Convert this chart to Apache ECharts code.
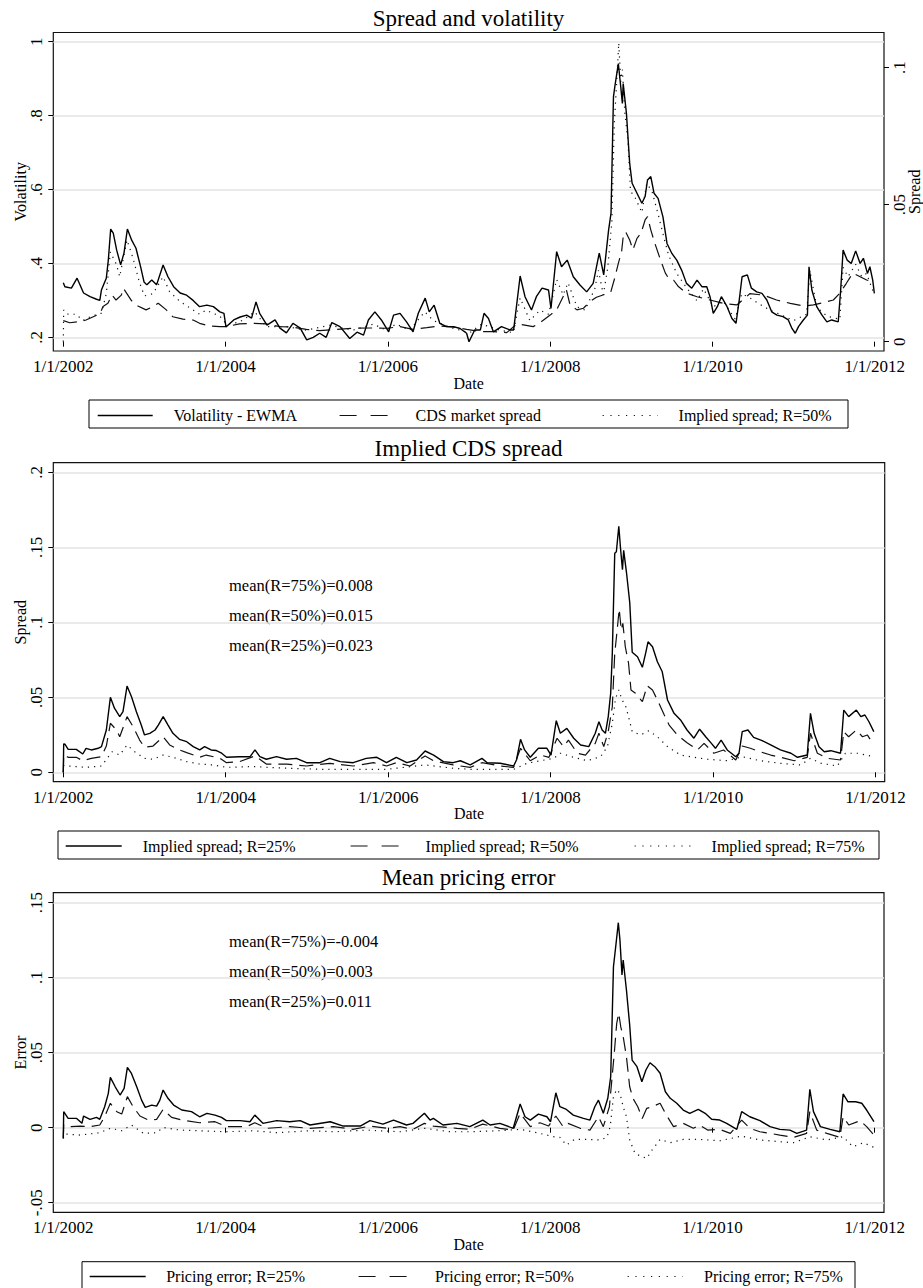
<!DOCTYPE html>
<html>
<head>
<meta charset="utf-8">
<script src="https://cdn.jsdelivr.net/npm/echarts@6/dist/echarts.min.js"></script>
<style>
html,body{margin:0;padding:0;background:#fff;}
#chart{width:923px;height:1288px;}
</style>
</head>
<body>
<div id="chart"></div>
<script>
// ---------------- DATA (date in decimal years, value) ----------------
const xTicks = [2002, 2004, 2006, 2008, 2010, 2012];
const volTicks = [0.2, 0.4, 0.6, 0.8, 1];
const spreadTicksTop = [0, 0.05, 0.1];
const spreadTicks = [0, 0.05, 0.1, 0.15, 0.2];
const errorTicks = [-0.05, 0, 0.05, 0.1, 0.15];

const titles = ['Spread and volatility', 'Implied CDS spread', 'Mean pricing error'];
const namesTop = ['Volatility - EWMA', 'CDS market spread', 'Implied spread; R=50%'];
const namesMid = ['Implied spread; R=25%', 'Implied spread; R=50%', 'Implied spread; R=75%'];
const namesBot = ['Pricing error; R=25%', 'Pricing error; R=50%', 'Pricing error; R=75%'];
const notesMid = ['mean(R=75%)=0.008', 'mean(R=50%)=0.015', 'mean(R=25%)=0.023'];
const notesBot = ['mean(R=75%)=-0.004', 'mean(R=50%)=0.003', 'mean(R=25%)=0.011'];

const ewma = [[2002.0,0.348],[2002.02,0.337],[2002.1,0.333],[2002.17,0.36],[2002.25,0.32],[2002.33,0.31],[2002.41,0.303],[2002.45,0.30],[2002.47,0.328],[2002.53,0.36],[2002.555,0.409],[2002.584,0.493],[2002.616,0.482],[2002.658,0.436],[2002.707,0.396],[2002.748,0.428],[2002.79,0.493],[2002.843,0.463],[2002.896,0.441],[2002.954,0.39],[2002.995,0.35],[2003.03,0.342],[2003.09,0.355],[2003.15,0.342],[2003.23,0.396],[2003.29,0.364],[2003.36,0.337],[2003.44,0.32],[2003.52,0.314],[2003.60,0.30],[2003.68,0.283],[2003.77,0.287],[2003.85,0.283],[2003.93,0.269],[2003.98,0.265],[2004.005,0.228],[2004.10,0.247],[2004.18,0.255],[2004.26,0.26],[2004.32,0.252],[2004.375,0.296],[2004.42,0.265],[2004.51,0.233],[2004.61,0.247],[2004.67,0.225],[2004.75,0.212],[2004.83,0.238],[2004.92,0.225],[2005.0,0.193],[2005.08,0.20],[2005.16,0.211],[2005.24,0.20],[2005.31,0.24],[2005.41,0.229],[2005.53,0.197],[2005.62,0.214],[2005.70,0.206],[2005.76,0.247],[2005.84,0.269],[2005.92,0.247],[2006.01,0.215],[2006.07,0.26],[2006.15,0.265],[2006.23,0.242],[2006.31,0.215],[2006.375,0.265],[2006.46,0.306],[2006.51,0.269],[2006.57,0.287],[2006.64,0.238],[2006.725,0.229],[2006.81,0.229],[2006.89,0.224],[2006.97,0.211],[2007.0,0.188],[2007.07,0.22],[2007.14,0.22],[2007.185,0.265],[2007.24,0.251],[2007.30,0.215],[2007.40,0.229],[2007.505,0.22],[2007.55,0.22],[2007.63,0.366],[2007.69,0.31],[2007.77,0.274],[2007.83,0.31],[2007.90,0.333],[2007.98,0.328],[2008.01,0.278],[2008.08,0.432],[2008.14,0.391],[2008.21,0.409],[2008.285,0.364],[2008.37,0.341],[2008.45,0.323],[2008.53,0.346],[2008.605,0.428],[2008.66,0.369],[2008.72,0.49],[2008.75,0.536],[2008.78,0.851],[2008.80,0.883],[2008.84,0.941],[2008.87,0.878],[2008.89,0.833],[2008.90,0.887],[2008.94,0.806],[2008.98,0.671],[2009.01,0.617],[2009.07,0.59],[2009.13,0.563],[2009.17,0.581],[2009.20,0.626],[2009.24,0.635],[2009.28,0.59],[2009.33,0.576],[2009.39,0.526],[2009.44,0.454],[2009.50,0.427],[2009.56,0.409],[2009.62,0.382],[2009.68,0.346],[2009.745,0.333],[2009.81,0.355],[2009.87,0.337],[2009.93,0.337],[2009.97,0.31],[2010.01,0.265],[2010.06,0.283],[2010.11,0.31],[2010.18,0.283],[2010.24,0.251],[2010.29,0.238],[2010.33,0.301],[2010.365,0.364],[2010.43,0.369],[2010.48,0.333],[2010.545,0.323],[2010.61,0.319],[2010.67,0.301],[2010.73,0.269],[2010.795,0.26],[2010.87,0.256],[2010.935,0.247],[2010.98,0.224],[2011.02,0.211],[2011.06,0.229],[2011.12,0.247],[2011.17,0.26],[2011.19,0.391],[2011.225,0.328],[2011.285,0.283],[2011.35,0.26],[2011.41,0.242],[2011.47,0.247],[2011.55,0.242],[2011.58,0.328],[2011.61,0.436],[2011.66,0.409],[2011.71,0.40],[2011.765,0.434],[2011.82,0.40],[2011.86,0.414],[2011.91,0.373],[2011.94,0.391],[2011.975,0.355],[2011.995,0.319]];

const cdsMarket = [[2002.0,0.0077],[2002.08,0.0069],[2002.20,0.0073],[2002.28,0.0079],[2002.37,0.0091],[2002.45,0.0101],[2002.49,0.0128],[2002.55,0.014],[2002.60,0.017],[2002.65,0.0152],[2002.715,0.017],[2002.74,0.0195],[2002.84,0.015],[2002.92,0.013],[2003.02,0.0116],[2003.105,0.0128],[2003.17,0.014],[2003.27,0.0116],[2003.35,0.0091],[2003.475,0.0082],[2003.60,0.0079],[2003.68,0.0067],[2003.80,0.0057],[2003.93,0.0055],[2004.01,0.0055],[2004.17,0.0065],[2004.34,0.0067],[2004.50,0.0065],[2004.67,0.0055],[2004.83,0.0053],[2004.995,0.0045],[2005.16,0.004],[2005.57,0.0049],[2005.78,0.005],[2005.99,0.0049],[2006.15,0.0055],[2006.31,0.0045],[2006.48,0.0051],[2006.64,0.0057],[2006.81,0.0053],[2006.97,0.0045],[2007.14,0.0037],[2007.30,0.0037],[2007.465,0.0033],[2007.59,0.0065],[2007.67,0.0061],[2007.79,0.0055],[2007.875,0.0069],[2008.0,0.0097],[2008.08,0.0116],[2008.20,0.0189],[2008.245,0.0134],[2008.33,0.0116],[2008.41,0.0122],[2008.49,0.0146],[2008.57,0.0162],[2008.72,0.0177],[2008.746,0.018],[2008.80,0.0237],[2008.84,0.0286],[2008.88,0.0328],[2008.90,0.0383],[2008.93,0.0401],[2008.98,0.0371],[2009.02,0.0335],[2009.07,0.0377],[2009.12,0.0396],[2009.17,0.0444],[2009.20,0.0456],[2009.24,0.0408],[2009.29,0.0359],[2009.36,0.0298],[2009.42,0.025],[2009.46,0.0231],[2009.52,0.0225],[2009.58,0.0201],[2009.68,0.0177],[2009.81,0.0164],[2009.97,0.0152],[2010.13,0.014],[2010.30,0.0134],[2010.46,0.0175],[2010.63,0.017],[2010.79,0.0152],[2010.96,0.014],[2011.12,0.013],[2011.245,0.0134],[2011.37,0.0143],[2011.49,0.0152],[2011.57,0.0177],[2011.65,0.0213],[2011.73,0.025],[2011.82,0.0237],[2011.90,0.0225],[2011.98,0.0219]];

const impliedR25 = [[2002.0,0],[2002.005,0.019],[2002.02,0.0187],[2002.06,0.0153],[2002.16,0.0153],[2002.24,0.0122],[2002.28,0.016],[2002.345,0.0149],[2002.43,0.016],[2002.47,0.0171],[2002.53,0.0282],[2002.58,0.050],[2002.63,0.0427],[2002.695,0.0371],[2002.735,0.0404],[2002.785,0.0575],[2002.84,0.0504],[2002.90,0.0404],[2002.96,0.0315],[2003.0,0.0249],[2003.065,0.026],[2003.13,0.0282],[2003.17,0.0315],[2003.23,0.0371],[2003.29,0.0315],[2003.35,0.026],[2003.43,0.022],[2003.52,0.0204],[2003.60,0.0171],[2003.68,0.0149],[2003.74,0.0171],[2003.82,0.0149],[2003.885,0.0145],[2003.95,0.0127],[2004.01,0.010],[2004.17,0.0104],[2004.30,0.0104],[2004.36,0.0149],[2004.42,0.0104],[2004.50,0.0087],[2004.625,0.0104],[2004.75,0.0087],[2004.87,0.0093],[2004.995,0.0064],[2005.16,0.0064],[2005.28,0.0093],[2005.41,0.0071],[2005.57,0.0064],[2005.73,0.0093],[2005.86,0.010],[2005.98,0.0064],[2006.10,0.010],[2006.23,0.0064],[2006.35,0.0082],[2006.455,0.0142],[2006.56,0.0115],[2006.68,0.0071],[2006.80,0.0064],[2006.89,0.0077],[2007.01,0.0049],[2007.155,0.0093],[2007.22,0.0064],[2007.38,0.006],[2007.545,0.0042],[2007.58,0.0082],[2007.63,0.022],[2007.68,0.0149],[2007.75,0.010],[2007.85,0.016],[2007.955,0.016],[2008.005,0.0115],[2008.07,0.0344],[2008.12,0.026],[2008.20,0.0293],[2008.285,0.0227],[2008.37,0.0182],[2008.47,0.0171],[2008.55,0.026],[2008.595,0.0337],[2008.635,0.0282],[2008.675,0.026],[2008.71,0.0371],[2008.74,0.0527],[2008.76,0.0793],[2008.79,0.146],[2008.81,0.147],[2008.84,0.164],[2008.86,0.150],[2008.885,0.135],[2008.90,0.148],[2008.935,0.133],[2008.975,0.113],[2009.005,0.080],[2009.07,0.077],[2009.13,0.070],[2009.17,0.0793],[2009.20,0.087],[2009.255,0.0837],[2009.315,0.0737],[2009.375,0.067],[2009.44,0.0482],[2009.52,0.0393],[2009.60,0.0349],[2009.68,0.0282],[2009.765,0.0227],[2009.835,0.0287],[2009.91,0.0237],[2009.98,0.0193],[2010.03,0.016],[2010.10,0.0215],[2010.175,0.0149],[2010.28,0.0104],[2010.32,0.0127],[2010.36,0.0271],[2010.43,0.0282],[2010.50,0.0233],[2010.605,0.0211],[2010.71,0.0182],[2010.83,0.0149],[2010.96,0.0127],[2011.04,0.010],[2011.16,0.0115],[2011.20,0.0393],[2011.245,0.026],[2011.305,0.0171],[2011.37,0.0137],[2011.45,0.0144],[2011.57,0.0127],[2011.61,0.0415],[2011.67,0.0371],[2011.765,0.0415],[2011.82,0.0371],[2011.87,0.0382],[2011.92,0.0337],[2011.98,0.0271]];

const impliedR50 = [[2002.0,0],[2002.005,0.0116],[2002.06,0.010],[2002.16,0.010],[2002.24,0.0077],[2002.345,0.0093],[2002.47,0.0104],[2002.53,0.0175],[2002.58,0.0327],[2002.655,0.0282],[2002.695,0.0237],[2002.785,0.0371],[2002.86,0.0304],[2002.94,0.0215],[2003.0,0.0167],[2003.105,0.0175],[2003.23,0.0237],[2003.31,0.0182],[2003.43,0.0149],[2003.52,0.0131],[2003.68,0.010],[2003.76,0.0115],[2003.93,0.0093],[2004.01,0.0064],[2004.17,0.0071],[2004.36,0.0109],[2004.50,0.0055],[2004.75,0.0055],[2004.995,0.0042],[2005.28,0.006],[2005.57,0.0042],[2005.82,0.0064],[2005.98,0.0042],[2006.10,0.0064],[2006.27,0.0042],[2006.455,0.0109],[2006.56,0.0077],[2006.80,0.0049],[2007.01,0.0033],[2007.155,0.0064],[2007.38,0.0042],[2007.545,0.0033],[2007.63,0.016],[2007.75,0.0077],[2007.875,0.0115],[2007.98,0.010],[2008.08,0.0227],[2008.16,0.0171],[2008.22,0.0215],[2008.33,0.0127],[2008.43,0.0115],[2008.55,0.0193],[2008.595,0.026],[2008.655,0.0171],[2008.71,0.0271],[2008.76,0.0437],[2008.79,0.0793],[2008.82,0.0949],[2008.845,0.109],[2008.87,0.0949],[2008.89,0.0993],[2008.92,0.0837],[2008.96,0.0727],[2008.99,0.0549],[2009.045,0.0527],[2009.13,0.0471],[2009.19,0.0577],[2009.255,0.0549],[2009.335,0.046],[2009.40,0.0382],[2009.46,0.0315],[2009.56,0.0249],[2009.68,0.0197],[2009.81,0.0149],[2009.89,0.0193],[2010.01,0.0127],[2010.13,0.0149],[2010.28,0.0082],[2010.36,0.0175],[2010.46,0.016],[2010.58,0.0137],[2010.71,0.0115],[2010.83,0.010],[2011.0,0.0077],[2011.16,0.010],[2011.20,0.026],[2011.285,0.0127],[2011.41,0.0093],[2011.57,0.0082],[2011.61,0.0271],[2011.67,0.0237],[2011.765,0.0282],[2011.84,0.0237],[2011.90,0.0249],[2011.98,0.0182]];

const impliedR75 = [[2002.0,0],[2002.005,0.0045],[2002.06,0.0042],[2002.28,0.0033],[2002.47,0.0042],[2002.60,0.0137],[2002.695,0.0115],[2002.785,0.0182],[2002.88,0.0137],[2003.0,0.0093],[2003.105,0.0087],[2003.23,0.0115],[2003.35,0.010],[2003.52,0.0071],[2003.68,0.0055],[2003.845,0.0049],[2004.01,0.0033],[2004.34,0.0038],[2004.75,0.0027],[2005.16,0.002],[2005.57,0.002],[2005.98,0.002],[2006.455,0.0049],[2006.80,0.0027],[2007.01,0.002],[2007.38,0.002],[2007.545,0.002],[2007.71,0.006],[2007.875,0.0077],[2008.04,0.0093],[2008.12,0.0127],[2008.285,0.010],[2008.45,0.0077],[2008.615,0.0104],[2008.70,0.0171],[2008.76,0.0327],[2008.80,0.0493],[2008.84,0.0549],[2008.88,0.0482],[2008.92,0.0449],[2008.96,0.0371],[2009.005,0.0271],[2009.11,0.0249],[2009.21,0.0277],[2009.315,0.0237],[2009.44,0.0171],[2009.60,0.0115],[2009.765,0.010],[2009.93,0.0087],[2010.175,0.0077],[2010.36,0.0104],[2010.58,0.0077],[2010.83,0.006],[2011.08,0.0049],[2011.20,0.0093],[2011.33,0.006],[2011.53,0.0042],[2011.63,0.0127],[2011.78,0.0127],[2011.98,0.0104]];

const errorR25 = [[2002.0,-0.0071],[2002.005,0.0107],[2002.06,0.0062],[2002.165,0.0062],[2002.23,0.0029],[2002.25,0.0078],[2002.33,0.0056],[2002.41,0.0069],[2002.45,0.0056],[2002.51,0.014],[2002.555,0.0229],[2002.58,0.0336],[2002.64,0.0273],[2002.70,0.0218],[2002.75,0.0262],[2002.79,0.0402],[2002.84,0.0362],[2002.905,0.0273],[2002.965,0.0184],[2003.01,0.0136],[2003.09,0.0151],[2003.15,0.0144],[2003.19,0.0184],[2003.23,0.0251],[2003.29,0.0196],[2003.36,0.0151],[2003.46,0.0118],[2003.58,0.0107],[2003.68,0.0073],[2003.77,0.0096],[2003.87,0.0084],[2003.95,0.0069],[2004.01,0.0047],[2004.18,0.0047],[2004.30,0.004],[2004.36,0.0084],[2004.46,0.0029],[2004.63,0.0047],[2004.79,0.004],[2004.92,0.0047],[2005.04,0.0018],[2005.29,0.004],[2005.45,0.0011],[2005.66,0.0011],[2005.78,0.0047],[2005.94,0.0024],[2006.07,0.0051],[2006.23,0.0018],[2006.31,0.0029],[2006.45,0.0096],[2006.52,0.0051],[2006.56,0.0062],[2006.68,0.0018],[2006.85,0.0029],[2007.01,0.0007],[2007.17,0.0051],[2007.26,0.0018],[2007.38,0.0029],[2007.545,-0.0004],[2007.63,0.0158],[2007.69,0.0073],[2007.755,0.0051],[2007.855,0.0091],[2007.96,0.0073],[2008.005,0.004],[2008.07,0.0233],[2008.12,0.014],[2008.20,0.0122],[2008.285,0.0084],[2008.41,0.0062],[2008.49,0.0051],[2008.55,0.014],[2008.595,0.0184],[2008.655,0.0096],[2008.71,0.0196],[2008.746,0.034],[2008.78,0.1073],[2008.81,0.1218],[2008.84,0.1367],[2008.86,0.1251],[2008.885,0.1018],[2008.90,0.1118],[2008.94,0.0918],[2008.98,0.0685],[2009.01,0.0451],[2009.07,0.0407],[2009.13,0.0307],[2009.18,0.0385],[2009.23,0.0433],[2009.29,0.0407],[2009.355,0.0363],[2009.42,0.024],[2009.48,0.0196],[2009.56,0.0163],[2009.64,0.0118],[2009.72,0.0096],[2009.825,0.0122],[2009.91,0.0096],[2009.99,0.0056],[2010.09,0.0051],[2010.175,0.0029],[2010.30,-0.0011],[2010.36,0.0107],[2010.46,0.0073],[2010.585,0.0047],[2010.71,0.0007],[2010.83,-0.0011],[2010.955,-0.0016],[2011.04,-0.0038],[2011.16,-0.0016],[2011.20,0.0256],[2011.245,0.0107],[2011.33,0.0007],[2011.45,-0.0011],[2011.57,-0.0027],[2011.61,0.0225],[2011.67,0.0173],[2011.765,0.0173],[2011.84,0.0163],[2011.90,0.0118],[2011.99,0.004]];

const errorR50 = [[2002.0,-0.0071],[2002.005,0.002],[2002.08,0.0007],[2002.21,0.0011],[2002.33,0.0007],[2002.45,0.0018],[2002.51,0.0073],[2002.58,0.0163],[2002.66,0.0107],[2002.72,0.0091],[2002.79,0.0207],[2002.86,0.014],[2002.945,0.0078],[2003.05,0.0051],[2003.15,0.0056],[2003.23,0.0122],[2003.335,0.0069],[2003.46,0.0051],[2003.68,0.0033],[2003.87,0.004],[2004.01,0.0007],[2004.26,0.0007],[2004.36,0.0033],[2004.51,-0.0004],[2004.79,0.0007],[2005.04,-0.0004],[2005.33,0.0007],[2005.57,-0.0011],[2005.78,0.0011],[2005.99,-0.0004],[2006.15,0.0007],[2006.31,-0.0011],[2006.45,0.0029],[2006.56,0.0011],[2006.85,-0.0004],[2007.01,-0.0011],[2007.17,0.0024],[2007.38,-0.0004],[2007.545,-0.0016],[2007.63,0.0096],[2007.755,0.0007],[2007.875,0.0033],[2007.98,0.0011],[2008.07,0.0078],[2008.16,0.0007],[2008.22,0.0029],[2008.37,-0.0004],[2008.49,-0.0016],[2008.595,0.0073],[2008.655,0.0007],[2008.73,0.014],[2008.79,0.0496],[2008.82,0.0696],[2008.845,0.0763],[2008.87,0.0673],[2008.90,0.0607],[2008.94,0.0473],[2008.98,0.0273],[2009.02,0.0196],[2009.08,0.014],[2009.135,0.0062],[2009.19,0.0129],[2009.255,0.014],[2009.355,0.0163],[2009.42,0.0096],[2009.52,0.0007],[2009.64,0.0029],[2009.765,-0.0004],[2009.84,0.0018],[2009.94,-0.0016],[2010.09,-0.0011],[2010.22,-0.0038],[2010.36,0.0051],[2010.46,-0.0004],[2010.585,-0.0027],[2010.71,-0.0038],[2010.83,-0.0049],[2011.0,-0.0064],[2011.16,-0.0038],[2011.20,0.0107],[2011.285,-0.0016],[2011.41,-0.0038],[2011.57,-0.0064],[2011.61,0.0073],[2011.68,0.0018],[2011.82,0.0047],[2011.90,0.0007],[2011.99,-0.0049]];

const errorR75 = [[2002.0,-0.0071],[2002.02,-0.0042],[2002.21,-0.0049],[2002.45,-0.0033],[2002.58,-0.0004],[2002.72,-0.002],[2002.84,0.0018],[2002.99,-0.0038],[2003.15,-0.0033],[2003.23,0.0002],[2003.44,-0.0016],[2003.68,-0.002],[2004.01,-0.0027],[2004.34,-0.002],[2004.63,-0.0033],[2005.04,-0.002],[2005.33,-0.0027],[2005.74,-0.0016],[2006.15,-0.0027],[2006.45,-0.0004],[2006.77,-0.0027],[2007.01,-0.0027],[2007.38,-0.002],[2007.63,-0.0011],[2007.875,-0.0038],[2008.04,-0.006],[2008.12,-0.0064],[2008.20,-0.0116],[2008.30,-0.0078],[2008.45,-0.0078],[2008.615,-0.0082],[2008.70,-0.0064],[2008.74,0.0007],[2008.78,0.0207],[2008.82,0.0256],[2008.86,0.0229],[2008.90,0.014],[2008.94,0.0073],[2008.98,-0.0082],[2009.045,-0.0171],[2009.13,-0.0193],[2009.19,-0.0204],[2009.255,-0.0149],[2009.355,-0.0078],[2009.48,-0.01],[2009.64,-0.0078],[2009.84,-0.0078],[2010.09,-0.0087],[2010.36,-0.0056],[2010.585,-0.0082],[2010.83,-0.0093],[2011.0,-0.01],[2011.20,-0.006],[2011.41,-0.0082],[2011.61,-0.006],[2011.73,-0.0127],[2011.86,-0.01],[2011.99,-0.0131]];

// ---------------- STYLE ----------------
const FONT = 'Liberation Serif';
const BLACK = '#000';
const GRIDC = '#e3e3e3';
const SOLID = {type: 'solid', width: 1.4, color: BLACK};
const DASH = {type: [14, 7], width: 1.2, color: '#111'};
const DOT = {type: [1.2, 5], width: 1.2, color: '#111'};
const LEG_DASH = {type: [17, 14], width: 1.2, color: '#111'};
const LEG_DOT = {type: [1.2, 6.6], width: 1.2, color: '#111'};

function stataNum(v) {
  if (Math.abs(v) < 1e-9) return '0';
  const s = String(parseFloat(v.toFixed(4)));
  return s.replace(/^(-?)0\./, '$1.');
}

const X_MIN = 2001.877, X_MAX = 2012.114;
const grids = [
  {left: 53.3, top: 32.5, width: 830.7, height: 318.5},
  {left: 53.3, top: 462.7, width: 831.4, height: 319},
  {left: 53.3, top: 892.7, width: 830.7, height: 319.6}
];

function xAxis(i) {
  return {
    type: 'value', gridIndex: i, min: X_MIN, max: X_MAX,
    axisLine: {show: false},
    splitLine: {show: false},
    axisTick: {show: true, length: 5, customValues: xTicks, lineStyle: {color: BLACK, width: 1}},
    axisLabel: {customValues: xTicks, formatter: v => '1/1/' + Math.round(v),
      fontFamily: FONT, fontSize: 17, color: BLACK, margin: 7},
    name: 'Date', nameLocation: 'middle', nameGap: 24, nameMoveOverlap: false,
    nameTextStyle: {fontFamily: FONT, fontSize: 16, color: BLACK}
  };
}
function yAxis(i, min, max, ticks, name, pos, grid) {
  return {
    type: 'value', gridIndex: i, min: min, max: max, position: pos,
    axisLine: {show: false},
    splitLine: {show: grid, lineStyle: {color: GRIDC, width: 1.5}},
    axisTick: {show: true, length: 5, customValues: ticks, lineStyle: {color: BLACK, width: 1}},
    axisLabel: {customValues: ticks, rotate: 90, formatter: stataNum,
      fontFamily: FONT, fontSize: 17, color: BLACK, margin: pos === 'right' ? 7 : 8},
    name: name, nameLocation: 'middle', nameRotate: 90, nameMoveOverlap: false,
    nameGap: pos === 'right' ? 22 : 25,
    nameTextStyle: {fontFamily: FONT, fontSize: 16, color: BLACK}
  };
}
function line(name, data, xi, yi, style, z) {
  return {
    type: 'line', name: name, data: data, xAxisIndex: xi, yAxisIndex: yi,
    showSymbol: false, symbol: 'none', lineStyle: style, z: z,
    silent: true, animation: false
  };
}
function legendItem(name, left, centerY, w, pad, ls) {
  return {
    show: true, left: left, top: centerY - 7, padding: 0, itemGap: 0,
    itemWidth: w, itemHeight: 14, selectedMode: false,
    data: [name], lineStyle: ls, itemStyle: {opacity: 0},
    textStyle: {fontFamily: FONT, fontSize: 16, color: BLACK, padding: [0, 0, 0, pad]}
  };
}
function rect(x, y, w, h) {
  return {type: 'rect', shape: {x: x, y: y, width: w, height: h},
    style: {fill: null, stroke: BLACK, lineWidth: 1}, silent: true};
}
function text(str, x, y, size, align) {
  return {type: 'text', x: x, y: y, silent: true,
    style: {text: str, fill: BLACK, font: size + 'px "' + FONT + '"',
      align: align, verticalAlign: 'middle', textAlign: align, textVerticalAlign: 'middle'}};
}

const option = {
  backgroundColor: '#fff',
  animation: false,
  grid: grids.map(g => Object.assign({show: true, borderColor: '#111', borderWidth: 1.2,
    backgroundColor: 'transparent', containLabel: false, outerBoundsMode: 'none'}, g)),
  xAxis: [xAxis(0), xAxis(1), xAxis(2)],
  yAxis: [
    yAxis(0, 0.163, 1.025, volTicks, 'Volatility', 'left', true),
    yAxis(0, -0.0034, 0.1128, spreadTicksTop, 'Spread', 'right', false),
    yAxis(1, -0.00627, 0.2064, spreadTicks, 'Spread', 'left', true),
    yAxis(2, -0.0564, 0.1567, errorTicks, 'Error', 'left', true)
  ],
  legend: [
    legendItem(namesTop[0], 97, 414.5, 55, 16, SOLID),
    legendItem(namesTop[1], 339, 414.5, 48, 23, LEG_DASH),
    legendItem(namesTop[2], 602, 414.5, 55, 16, LEG_DOT),
    legendItem(namesMid[0], 65, 845, 56, 16, SOLID),
    legendItem(namesMid[1], 350, 845, 48, 22, LEG_DASH),
    legendItem(namesMid[2], 634, 845, 56, 16, LEG_DOT),
    legendItem(namesBot[0], 89, 1275.5, 56, 15.5, SOLID),
    legendItem(namesBot[1], 358, 1275.5, 48, 23.5, LEG_DASH),
    legendItem(namesBot[2], 627, 1275.5, 55, 16.5, LEG_DOT)
  ],
  graphic: [
    text(titles[0], 468.5, 18, 23, 'center'),
    text(titles[1], 468.5, 448, 23, 'center'),
    text(titles[2], 468.5, 877.5, 23, 'center'),
    text(notesMid[0], 229, 585.7, 16.5, 'left'),
    text(notesMid[1], 229, 615, 16.5, 'left'),
    text(notesMid[2], 229, 645, 16.5, 'left'),
    text(notesBot[0], 229, 941, 16.5, 'left'),
    text(notesBot[1], 229, 971, 16.5, 'left'),
    text(notesBot[2], 229, 1001, 16.5, 'left'),
    rect(89, 400, 759, 28),
    rect(58, 831, 821, 28),
    rect(82, 1261.7, 773, 30)
  ],
  series: [
    line(namesTop[2], impliedR50, 0, 1, DOT, 2),
    line(namesTop[1], cdsMarket, 0, 1, DASH, 3),
    line(namesTop[0], ewma, 0, 0, SOLID, 4),
    line(namesMid[2], impliedR75, 1, 2, DOT, 2),
    line(namesMid[1], impliedR50, 1, 2, DASH, 3),
    line(namesMid[0], impliedR25, 1, 2, SOLID, 4),
    line(namesBot[2], errorR75, 2, 3, DOT, 2),
    line(namesBot[1], errorR50, 2, 3, DASH, 3),
    line(namesBot[0], errorR25, 2, 3, SOLID, 4)
  ]
};

const chart = echarts.init(document.getElementById('chart'), null, {renderer: 'svg', width: 923, height: 1288});
chart.setOption(option);
</script>
</body>
</html>
